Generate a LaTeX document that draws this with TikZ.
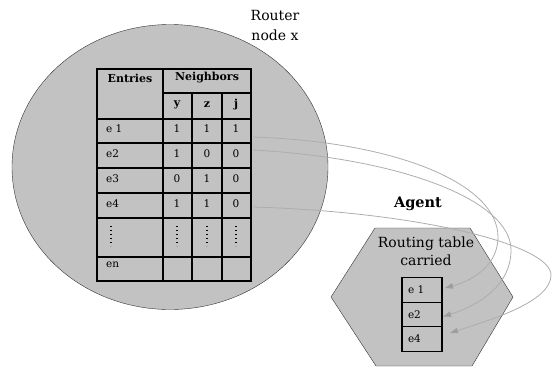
\documentclass[tikz,border=0pt]{standalone}
\usepackage{fontspec}
\setmainfont{DejaVu Serif}
\usepackage{tikz}
\usetikzlibrary{positioning, shapes.geometric, arrows.meta}

\begin{document}
\begin{tikzpicture}[x=1pt, y=-1pt,
    cell/.style={font=\fontsize{10.5}{12}\selectfont, inner sep=0pt},
    head/.style={font=\fontsize{11}{13}\selectfont\bfseries, inner sep=0pt},
    grid/.style={line width=1.2pt},
    slot/.style={draw, line width=1.2pt, outer sep=0pt, minimum width=40pt, minimum height=24.5pt,
                 text width=28pt, align=left, font=\fontsize{10.5}{12}\selectfont},
    link/.style={draw=black!32, line width=0.8pt, -{Triangle[length=8pt,width=5.5pt,color=black!38]}}]
    \useasboundingbox (0,0) rectangle (553,367);

    % router x and its entry table
    \node[ellipse, draw=black!80, fill=black!24, minimum width=316pt, minimum height=285pt, inner sep=0pt] (router) at (170,167) {};
    \node[font=\fontsize{14}{20}\selectfont, align=center] (routername) at (275,25) {Router\\node x};

    \draw[grid] (97,69) rectangle (251,281);
    \draw[grid] (163,69) -- (163,281);
    \draw[grid] (163,93) -- (251,93);
    \foreach \x in {192,222}
        \draw[grid] (\x,93) -- (\x,281);
    \foreach \y in {119,143,168,193,218,257}
        \draw[grid] (97,\y) -- (251,\y);

    \node[head] (entries) at (130,78) {Entries};
    \node[head] (neighbors) at (207,78) {Neighbors};
    \node[head] (coly) at (177,105) {y};
    \node[head] (colz) at (207,105) {z};
    \node[head] (colj) at (236,105) {j};

    \foreach \t/\a/\b/\c/\y [count=\i] in {e 1/1/1/1/129, e2/1/0/0/154, e3/0/1/0/179, e4/1/1/0/204} {
        \node[cell, anchor=west] (row\i) at (106,\y) {\t};
        \node[cell] at (177,\y) {\a};
        \node[cell] at (207,\y) {\b};
        \node[cell] at (236,\y) {\c};
    }
    \foreach \x in {111,177,207,236}
        \draw[dash pattern=on 1.2pt off 2.8pt, line width=1.2pt] (\x,226) -- (\x,246);
    \node[cell, anchor=west] (rown) at (106,265) {en};

    % where the copied rows leave the table
    \coordinate (o1) at (253,137);
    \coordinate (o2) at (253,150);
    \coordinate (o4) at (253,207);

    % the agent
    \node[font=\fontsize{14.5}{16}\selectfont\bfseries] (agent) at (418,204) {Agent};
    \draw[draw=black!80, fill=black!24] (375,228) -- (470,228) -- (513,297) -- (472,366) -- (376,366) -- (331,297) -- cycle;
    \node[font=\fontsize{14}{18}\selectfont, align=center] (carried) at (426,251) {Routing table\\carried};

    \node[slot] (a1) at (422,290) {e 1};
    \node[slot, below=0pt of a1] (a2) {e2};
    \node[slot, below=0pt of a2] (a4) {e4};

    % rows copied into the agent
    \draw[link] (o1) .. controls (400,142) and (498,185) .. (498,237)
        .. controls (498,262) and (478,279) .. ([xshift=3pt,yshift=2pt]a1.east);
    \draw[link] (o2) .. controls (400,158) and (511,200) .. (511,250)
        .. controls (511,285) and (480,305) .. ([xshift=1pt,yshift=-2pt]a2.east);
    \draw[link] (o4) .. controls (420,212) and (551,245) .. (551,275)
        .. controls (551,302) and (490,320) .. ([xshift=8pt,yshift=6pt]a4.east);
\end{tikzpicture}
\end{document}
